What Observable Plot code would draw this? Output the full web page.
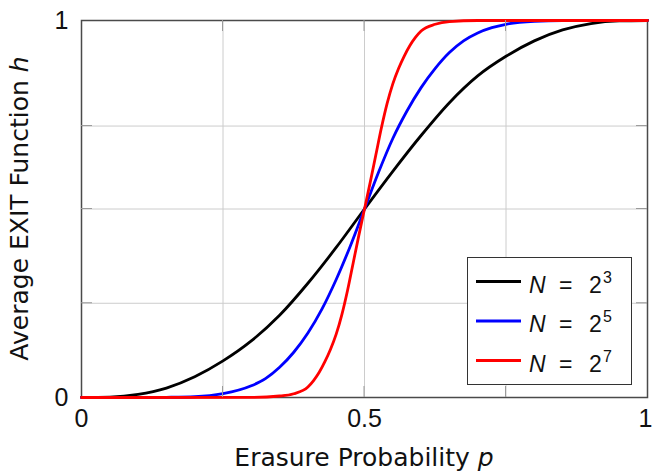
<!DOCTYPE html>
<html><head><meta charset="utf-8">
<script src="https://cdn.jsdelivr.net/npm/d3@7"></script>
<script src="https://cdn.jsdelivr.net/npm/@observablehq/plot@0.6"></script>
<style>body{margin:0;background:#fff} #chart{width:652px;height:472px}</style>
</head><body><div id="chart"></div>
<script>
// Series: N = 2^3 (black)
const pN8 = [0, 0.05, 0.1, 0.15, 0.2, 0.25, 0.3, 0.35, 0.4, 0.45, 0.5, 0.55, 0.6, 0.65, 0.7, 0.75, 0.8, 0.85, 0.9, 0.95, 1];
const hN8 = [0, 0.001, 0.008, 0.025, 0.055, 0.097, 0.150, 0.218, 0.303, 0.398, 0.5, 0.600, 0.695, 0.782, 0.853, 0.905, 0.946, 0.975, 0.992, 0.999, 1];
// Series: N = 2^5 (blue)
const pN32 = [0, 0.1, 0.15, 0.2, 0.25, 0.3, 0.325, 0.35, 0.375, 0.4, 0.425, 0.45, 0.475, 0.5, 0.525, 0.55, 0.575, 0.6, 0.625, 0.65, 0.675, 0.7, 0.725, 0.75, 0.8, 0.85, 0.9, 1];
const hN32 = [0, 0, 0.0005, 0.002, 0.010, 0.031, 0.050, 0.080, 0.120, 0.171, 0.235, 0.313, 0.402, 0.5, 0.598, 0.687, 0.760, 0.822, 0.873, 0.915, 0.946, 0.967, 0.981, 0.990, 0.998, 1, 1, 1];
// Series: N = 2^7 (red)
const pN128 = [0, 0.3, 0.35, 0.375, 0.4, 0.41, 0.42, 0.43, 0.44, 0.45, 0.46, 0.47, 0.48, 0.49, 0.5, 0.51, 0.52, 0.53, 0.54, 0.55, 0.56, 0.57, 0.58, 0.59, 0.6, 0.625, 0.65, 0.7, 1];
const hN128 = [0, 0.0003, 0.004, 0.010, 0.028, 0.045, 0.067, 0.095, 0.128, 0.168, 0.220, 0.284, 0.357, 0.430, 0.5, 0.570, 0.643, 0.716, 0.780, 0.832, 0.872, 0.905, 0.933, 0.955, 0.972, 0.990, 0.997, 1, 1];

const seriesNames = ["N = 2^3", "N = 2^5", "N = 2^7"];
const seriesExps = ["3", "5", "7"];
const seriesColors = ["#000000", "#0000ff", "#ff0000"];
const xTicks = [0, 0.5, 1];
const yTicks = [0, 1];
const xGrid = [0.25, 0.5, 0.75];
const yGrid = [0.25, 0.5, 0.72];
const xLabel = ["Erasure Probability ", "p"];
const yLabel = ["Average EXIT Function ", "h"];

const rows = [];
[[pN8, hN8], [pN32, hN32], [pN128, hN128]].forEach(([ps, hs], i) =>
  ps.forEach((p, j) => rows.push({series: seriesNames[i], p, h: hs[j]})));

const FONT = "Liberation Sans, Arial, sans-serif";
const LFONT = "DejaVu Sans, sans-serif";
const chart = Plot.plot({
  width: 652, height: 472,
  marginLeft: 81, marginRight: 5, marginTop: 20, marginBottom: 75,
  style: {fontFamily: FONT, fontSize: "25px", background: "#fff", overflow: "visible", color: "#111"},
  x: {domain: [0, 1]},
  y: {domain: [0, 1]},
  color: {domain: seriesNames, range: seriesColors},
  marks: [
    Plot.gridX(xGrid, {stroke: "#cccccc", strokeOpacity: 1, strokeWidth: 1}),
    Plot.gridY(yGrid, {stroke: "#cccccc", strokeOpacity: 1, strokeWidth: 1}),
    Plot.axisX(xTicks, {tickSize: 0, tickPadding: 12, tickFormat: d => String(d), label: null}),
    Plot.axisY(yTicks, {tickSize: 0, tickPadding: 13, tickFormat: d => String(d), label: null}),
    Plot.frame({stroke: "#4a4a4a", strokeWidth: 1.5, strokeOpacity: 1}),
    Plot.line(rows, {x: "p", y: "h", stroke: "series", z: "series", strokeWidth: 2.8, curve: "monotone-x"})
  ]
});
document.getElementById("chart").appendChild(chart);

const svg = d3.select(chart);
// nudge the last x tick label so it stays inside the picture
svg.selectAll("g[aria-label='x-axis tick label'] text").filter(function(d, i, n) { return i === n.length - 1; })
  .attr("transform", function() { return (this.getAttribute("transform") || "") + " translate(-2,0)"; });

const sx = chart.scale("x"), sy = chart.scale("y");
const x0 = sx.apply(0), x1 = sx.apply(1), y0 = sy.apply(0), y1 = sy.apply(1);
const TL = 11;
// inward ticks
const tg = svg.insert("g", "g[aria-label='frame']").attr("stroke", "#9a9a9a").attr("stroke-width", 1);
xGrid.forEach(v => {
  const x = sx.apply(v);
  tg.append("line").attr("x1", x).attr("x2", x).attr("y1", y0).attr("y2", y0 - TL);
  tg.append("line").attr("x1", x).attr("x2", x).attr("y1", y1).attr("y2", y1 + TL);
});
yGrid.forEach(v => {
  const y = sy.apply(v);
  tg.append("line").attr("y1", y).attr("y2", y).attr("x1", x0).attr("x2", x0 + TL);
  tg.append("line").attr("y1", y).attr("y2", y).attr("x1", x1).attr("x2", x1 - TL);
});

// axis labels
const xl = svg.append("text").attr("x", (x0 + x1) / 2).attr("y", 466)
  .attr("text-anchor", "middle").attr("font-family", LFONT).attr("font-size", 25).attr("fill", "#111");
xl.append("tspan").text(xLabel[0]);
xl.append("tspan").attr("font-style", "italic").text(xLabel[1]);
const yl = svg.append("text").attr("transform", `translate(28,${(y0 + y1) / 2}) rotate(-90)`)
  .attr("text-anchor", "middle").attr("font-family", LFONT).attr("font-size", 25).attr("fill", "#111");
yl.append("tspan").text(yLabel[0]);
yl.append("tspan").attr("font-style", "italic").text(yLabel[1]);

// legend
const lg = svg.append("g").attr("font-family", FONT).attr("fill", "#111").attr("text-anchor", "start");
lg.append("rect").attr("x", 467.5).attr("y", 257.5).attr("width", 164).attr("height", 127)
  .attr("fill", "#fff").attr("stroke", "#333").attr("stroke-width", 1);
seriesNames.forEach((name, i) => {
  const cy = 281.5 + i * 39.5;
  lg.append("line").attr("x1", 476).attr("x2", 521).attr("y1", cy).attr("y2", cy)
    .attr("stroke", seriesColors[i]).attr("stroke-width", 2.8);
  const base = cy + 11;
  lg.append("text").attr("x", 529).attr("y", base).attr("font-size", 23).attr("font-style", "italic").text("N");
  lg.append("text").attr("x", 559).attr("y", base).attr("font-size", 23).text("=");
  lg.append("text").attr("x", 589).attr("y", base).attr("font-size", 23).text("2");
  lg.append("text").attr("x", 603).attr("y", base - 10).attr("font-size", 16).text(seriesExps[i]);
});
</script>
</body></html>
